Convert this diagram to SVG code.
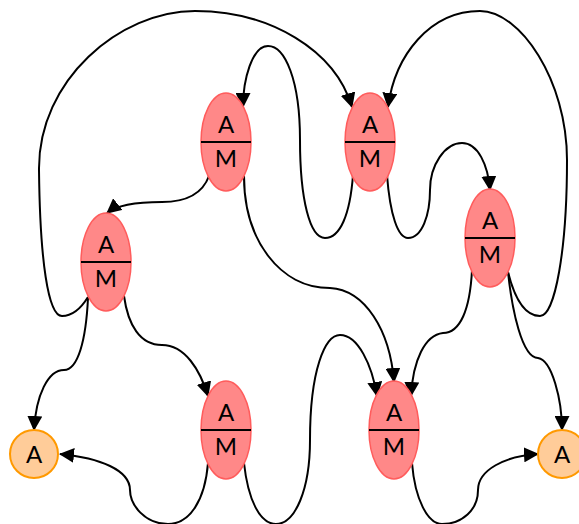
<svg xmlns="http://www.w3.org/2000/svg" width="579" height="524" viewBox="0 0 579 524">
  <style>
    .am { fill: #ff8888; stroke: #ff5c5c; stroke-width: 1.5; }
    .leaf { fill: #ffcc99; stroke: #ff9900; stroke-width: 2; }
    .div { stroke: #000; stroke-width: 2; }
    .lbl { font-family: Lato, "Liberation Sans", sans-serif; font-size: 24px; fill: #000; text-anchor: middle; }
    .edge { fill: none; stroke: #000; stroke-width: 2; marker-end: url(#arrow); }
  </style>
  <defs>
    <marker id="arrow" viewBox="0 0 15 15" refX="14" refY="7.5" markerWidth="15" markerHeight="15" markerUnits="userSpaceOnUse" orient="auto">
      <path d="M0,0 L15,7.5 L0,15 z" fill="#000"/>
    </marker>
  </defs>

  <g id="connectors">
    <path class="edge" d="M209,176 C202,195 185,202 162,202 C140,202 118,204 107,213"/>
    <path class="edge" d="M88,297 C80,310 72,316 62,316 C48,316 40,260 39,170 C38,80 120,11 195,11 C270,11 335,50 352,107"/>
    <path class="edge" d="M88,298 C86,340 78,370 64,370 C48,370 36,395 34,430"/>
    <path class="edge" d="M124,296 C128,325 140,345 162,345 C185,345 200,370 208,396"/>
    <path class="edge" d="M208,463 C205,500 190,524 168,524 C145,524 130,505 130,490 C130,470 100,458 60,454"/>
    <path class="edge" d="M244,463 C248,500 260,524 276,524 C295,524 310,490 310,440 C310,370 325,335 340,335 C358,335 372,365 377,396"/>
    <path class="edge" d="M244,176 C244,240 280,288 330,288 C365,290 390,330 394,382"/>
    <path class="edge" d="M472,270 C470,310 460,333 443,333 C425,335 413,360 411,396"/>
    <path class="edge" d="M508,272 C512,310 522,358 538,358 C552,360 562,400 562,430"/>
    <path class="edge" d="M508,272 C515,300 525,316 540,316 C555,316 567,250 567,160 C567,80 520,11 480,11 C430,11 395,55 388,107"/>
    <path class="edge" d="M412,463 C415,500 428,524 442,524 C462,524 478,510 478,490 C478,470 505,456 538,454"/>
    <path class="edge" d="M353,175 C350,215 340,238 325,238 C310,238 300,200 300,140 C300,80 285,46 268,46 C252,46 243,80 243,107"/>
    <path class="edge" d="M387,175 C390,215 398,238 408,238 C422,238 430,215 430,190 C430,165 445,143 462,143 C478,143 488,165 490,190"/>
  </g>

  <g id="n1">
    <ellipse class="am" cx="226" cy="142" rx="25" ry="49"/>
    <line class="div" x1="201" y1="142" x2="251" y2="142"/>
    <text class="lbl" x="226" y="133">A</text>
    <text class="lbl" x="226" y="167">M</text>
  </g>
  <g id="n2">
    <ellipse class="am" cx="370" cy="142" rx="25" ry="49"/>
    <line class="div" x1="345" y1="142" x2="395" y2="142"/>
    <text class="lbl" x="370" y="133">A</text>
    <text class="lbl" x="370" y="167">M</text>
  </g>
  <g id="n3">
    <ellipse class="am" cx="490" cy="238" rx="25" ry="49"/>
    <line class="div" x1="465" y1="238" x2="515" y2="238"/>
    <text class="lbl" x="490" y="229">A</text>
    <text class="lbl" x="490" y="263">M</text>
  </g>
  <g id="n4">
    <ellipse class="am" cx="106" cy="262" rx="25" ry="49"/>
    <line class="div" x1="81" y1="262" x2="131" y2="262"/>
    <text class="lbl" x="106" y="253">A</text>
    <text class="lbl" x="106" y="287">M</text>
  </g>
  <g id="n5">
    <ellipse class="am" cx="226" cy="430" rx="25" ry="49"/>
    <line class="div" x1="201" y1="430" x2="251" y2="430"/>
    <text class="lbl" x="226" y="421">A</text>
    <text class="lbl" x="226" y="455">M</text>
  </g>
  <g id="n6">
    <ellipse class="am" cx="394" cy="430" rx="25" ry="49"/>
    <line class="div" x1="369" y1="430" x2="419" y2="430"/>
    <text class="lbl" x="394" y="421">A</text>
    <text class="lbl" x="394" y="455">M</text>
  </g>
  <g id="leaf-left">
    <circle class="leaf" cx="34" cy="454" r="24"/>
    <text class="lbl" x="34" y="463">A</text>
  </g>
  <g id="leaf-right">
    <circle class="leaf" cx="562" cy="454" r="24"/>
    <text class="lbl" x="562" y="463">A</text>
  </g>
</svg>
